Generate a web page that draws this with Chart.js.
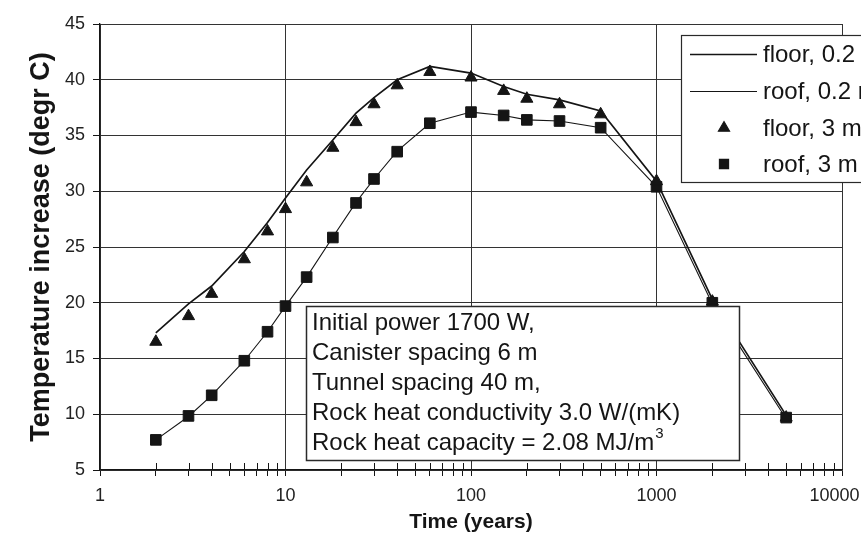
<!DOCTYPE html>
<html>
<head>
<meta charset="utf-8">
<script src="https://cdn.jsdelivr.net/npm/chart.js@4.4.1/dist/chart.umd.min.js"></script>
<style>
html,body{margin:0;padding:0;background:#fff;}
canvas{display:block;}
</style>
</head>
<body>
<canvas id="c" width="861" height="538"></canvas>
<script>
// ---------- data ----------
const timeYears  = [2, 3, 4, 6, 8, 10, 13, 18, 24, 30, 40, 60, 100, 150, 200, 300, 500, 1000, 2000, 5000];
const floorLine  = [17.3, 19.9, 21.5, 24.6, 27.2, 29.4, 31.9, 34.6, 37.0, 38.4, 40.0, 41.2, 40.6, 39.4, 38.7, 38.2, 37.2, 30.9, 20.3, 9.9];
const roofLine   = [7.7, 9.8, 11.7, 14.8, 17.4, 19.7, 22.3, 25.9, 29.0, 31.1, 33.6, 36.1, 37.1, 36.8, 36.4, 36.3, 35.7, 30.4, 19.9, 9.6];
const floorPts   = [16.5, 18.8, 20.8, 23.9, 26.4, 28.4, 30.8, 33.9, 36.2, 37.8, 39.5, 40.7, 40.2, 39.0, 38.3, 37.8, 36.9, 30.9, 20.1, 9.7];
const roofPts    = [7.7, 9.85, 11.7, 14.8, 17.4, 19.7, 22.3, 25.85, 28.95, 31.1, 33.55, 36.1, 37.1, 36.8, 36.4, 36.3, 35.7, 30.4, 20.0, 9.7];
const seriesLabels = ['floor, 0.2 m', 'roof, 0.2 m', 'floor, 3 m', 'roof, 3 m'];
const xDecades     = [1, 10, 100, 1000, 10000];
const xTickLabels  = ['1', '10', '100', '1000', '10000   '];
const yMin = 5, yMax = 45, yStep = 5;
const xTitle = 'Time (years)';
const yTitle = 'Temperature increase (degr C)';
const noteLines = ['Initial power 1700 W,', 'Canister spacing 6 m', 'Tunnel spacing 40 m,', 'Rock heat conductivity 3.0 W/(mK)', 'Rock heat capacity = 2.08 MJ/m'];
const noteSup = '3';

// ---------- helpers ----------
const FONT = "'Liberation Sans', Arial, Helvetica, sans-serif";
const INK = '#151515';
const GRID = '#333333';
const pairs = (ys) => timeYears.map((x, i) => ({x: x, y: ys[i]}));
const isDecade = (v) => xDecades.some(d => Math.abs(d - v) < 1e-9 * d);

const decorPlugin = {
  id: 'decor',
  afterDraw(chart) {
    const ctx = chart.ctx;
    const xs = chart.scales.x;
    const area = chart.chartArea;
    // minor ticks crossing the x axis
    ctx.save();
    ctx.strokeStyle = INK;
    ctx.lineWidth = 1;
    xs.ticks.forEach(t => {
      if (isDecade(t.value)) return;
      const px = Math.round(xs.getPixelForValue(t.value)) + 0.5;
      ctx.beginPath();
      ctx.moveTo(px, area.bottom - 7);
      ctx.lineTo(px, area.bottom);
      ctx.stroke();
    });
    ctx.restore();

    // note box
    ctx.save();
    const bx = 306.5, by = 306.5, bw = 433, bh = 154;
    ctx.fillStyle = '#fff';
    ctx.fillRect(bx, by, bw, bh);
    ctx.strokeStyle = '#2a2a2a';
    ctx.lineWidth = 1.5;
    ctx.strokeRect(bx, by, bw, bh);
    ctx.fillStyle = INK;
    ctx.font = '24px ' + FONT;
    ctx.textBaseline = 'middle';
    ctx.textAlign = 'left';
    const lineYs = [323, 353, 383, 413, 443];
    noteLines.forEach((s, i) => ctx.fillText(s, 312, lineYs[i]));
    const w = ctx.measureText(noteLines[4]).width;
    ctx.font = '15px ' + FONT;
    ctx.fillText(noteSup, 312 + w + 1, lineYs[4] - 9);
    ctx.restore();

    // legend
    ctx.save();
    const lx = 681.5, ly = 35.5;
    ctx.fillStyle = '#fff';
    ctx.fillRect(lx, ly, 200, 147);
    ctx.strokeStyle = '#2a2a2a';
    ctx.lineWidth = 1.2;
    ctx.strokeRect(lx, ly, 200, 147);
    const itemYs = [54, 91, 128, 164];
    ctx.font = '24px ' + FONT;
    ctx.textBaseline = 'middle';
    ctx.textAlign = 'left';
    chart.data.datasets.forEach((ds, i) => {
      const y = itemYs[i];
      if (ds.showLine) {
        ctx.strokeStyle = ds.borderColor;
        ctx.lineWidth = ds.borderWidth;
        ctx.beginPath();
        ctx.moveTo(690, y + 0.5);
        ctx.lineTo(757, y + 0.5);
        ctx.stroke();
      } else {
        ctx.fillStyle = ds.backgroundColor;
        ctx.strokeStyle = ds.borderColor;
        Chart.helpers.drawPoint(ctx, {pointStyle: ds.pointStyle, radius: 6.5, rotation: 0, borderWidth: 1}, 724, y);
      }
      ctx.fillStyle = INK;
      ctx.fillText(ds.label, 763, y + 1);
    });
    ctx.restore();
  }
};

new Chart(document.getElementById('c'), {
  type: 'scatter',
  data: {
    datasets: [
      {label: seriesLabels[0], data: pairs(floorLine), showLine: true, borderColor: INK, backgroundColor: INK, borderWidth: 1.7, pointRadius: 0, order: 2},
      {label: seriesLabels[1], data: pairs(roofLine), showLine: true, borderColor: INK, backgroundColor: INK, borderWidth: 1.1, pointRadius: 0, order: 2},
      {label: seriesLabels[2], data: pairs(floorPts), showLine: false, pointStyle: 'triangle', pointRadius: 7, backgroundColor: INK, borderColor: INK, borderWidth: 1, order: 0},
      {label: seriesLabels[3], data: pairs(roofPts), showLine: false, pointStyle: 'rect', pointRadius: 7.5, backgroundColor: INK, borderColor: INK, borderWidth: 1, order: 0}
    ]
  },
  options: {
    responsive: false,
    animation: false,
    devicePixelRatio: 1,
    layout: {padding: {top: 24, right: 19, left: 0, bottom: 0}},
    plugins: {legend: {display: false}, tooltip: {enabled: false}},
    scales: {
      x: {
        type: 'logarithmic',
        position: 'bottom',
        min: xDecades[0],
        max: xDecades[xDecades.length - 1],
        afterBuildTicks: (s) => {
          const t = [];
          for (let d = 0; d < xDecades.length - 1; d++) {
            for (let m = 1; m < 10; m++) t.push({value: xDecades[d] * m});
          }
          t.push({value: xDecades[xDecades.length - 1]});
          s.ticks = t;
        },
        afterFit: (s) => { s.height = 68; s.paddingLeft = 0; s.paddingRight = 0; },
        border: {display: true, color: INK, width: 1.3},
        grid: {
          color: (c) => (c.tick && isDecade(c.tick.value)) ? GRID : 'rgba(0,0,0,0)',
          lineWidth: 1,
          tickLength: 6,
          tickColor: INK,
          tickWidth: 1
        },
        ticks: {
          autoSkip: false, maxRotation: 0, minRotation: 0, padding: 9,
          color: '#222', font: {family: FONT, size: 18},
          callback: (v) => { const i = xDecades.findIndex(d => Math.abs(d - v) < 1e-9 * d); return i >= 0 ? xTickLabels[i] : ''; }
        },
        title: {display: true, text: xTitle, color: INK, font: {family: FONT, size: 21, weight: 'bold'}, padding: {top: 0, bottom: 3}}
      },
      y: {
        type: 'linear',
        position: 'left',
        min: yMin, max: yMax,
        afterFit: (s) => { s.width = 100; s.paddingTop = 0; s.paddingBottom = 0; },
        border: {display: true, color: INK, width: 1.3},
        grid: {color: GRID, lineWidth: 1, tickLength: 7, tickColor: INK, tickWidth: 1},
        ticks: {stepSize: yStep, padding: 8, color: '#222', font: {family: FONT, size: 18}},
        title: {display: true, text: yTitle, color: INK, font: {family: FONT, size: 27, weight: 'bold'}, padding: {top: 25, bottom: 0}}
      }
    }
  },
  plugins: [decorPlugin]
});
</script>
</body>
</html>
